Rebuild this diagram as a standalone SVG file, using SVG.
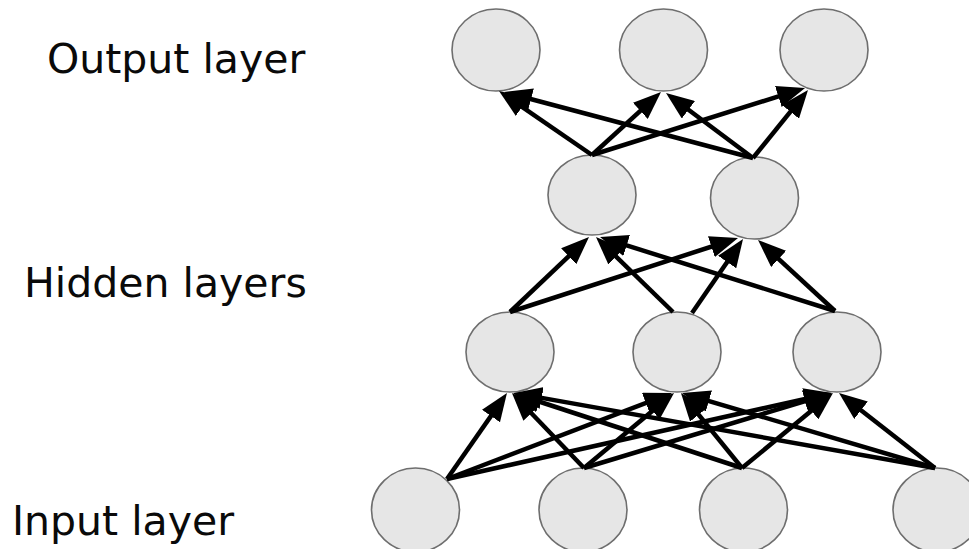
<svg xmlns="http://www.w3.org/2000/svg" width="969" height="549" viewBox="0 0 969 549">
<style>
.lbl{font-family:"DejaVu Sans","Liberation Sans",sans-serif;font-size:41px;fill:#0a0a0a}
.n{fill:#e6e6e6;stroke:#6e6e6e;stroke-width:1.6}
.e{stroke:#000;stroke-width:4.5;fill:none;marker-end:url(#ah)}
</style>
<defs>
<marker id="ah" viewBox="0 0 28 22" refX="20" refY="11" markerWidth="28" markerHeight="22" markerUnits="userSpaceOnUse" orient="auto">
<path d="M0,0 L28,11 L0,22 z" fill="#000"/>
</marker>
</defs>
<rect width="969" height="549" fill="#fff"/>
<text class="lbl" x="47" y="73">Output layer</text>
<text class="lbl" x="24" y="297">Hidden layers</text>
<text class="lbl" x="12" y="535">Input layer</text>

<g id="o1"><ellipse class="n" cx="496" cy="50" rx="44" ry="41"/></g>
<g id="o2"><ellipse class="n" cx="663.5" cy="50" rx="44" ry="41"/></g>
<g id="o3"><ellipse class="n" cx="824" cy="50" rx="44" ry="41"/></g>
<g id="h2a"><ellipse class="n" cx="592" cy="195" rx="44" ry="40"/></g>
<g id="h2b"><ellipse class="n" cx="754.5" cy="198" rx="44" ry="41"/></g>
<g id="h1a"><ellipse class="n" cx="510" cy="352" rx="44" ry="40"/></g>
<g id="h1b"><ellipse class="n" cx="677" cy="352" rx="44" ry="40"/></g>
<g id="h1c"><ellipse class="n" cx="837" cy="352" rx="44" ry="40"/></g>
<g id="i1"><ellipse class="n" cx="415.5" cy="510" rx="44" ry="42"/></g>
<g id="i2"><ellipse class="n" cx="583" cy="510" rx="44" ry="42"/></g>
<g id="i3"><ellipse class="n" cx="743.5" cy="510" rx="44" ry="42"/></g>
<g id="i4"><ellipse class="n" cx="937" cy="510" rx="44" ry="42"/></g>

<g id="connectors">
<line class="e" x1="447" y1="479" x2="502.4" y2="399.6"/>
<line class="e" x1="584" y1="468" x2="517.5" y2="398.8"/>
<line class="e" x1="742" y1="468" x2="520.6" y2="395.5"/>
<line class="e" x1="935" y1="468" x2="521.9" y2="394.4"/>
<line class="e" x1="447" y1="479" x2="664.5" y2="395.9"/>
<line class="e" x1="584" y1="468" x2="667.9" y2="398.1"/>
<line class="e" x1="742" y1="468" x2="686" y2="399.2"/>
<line class="e" x1="935" y1="468" x2="689.7" y2="395.3"/>
<line class="e" x1="447" y1="479" x2="824.2" y2="394.7"/>
<line class="e" x1="584" y1="468" x2="824.3" y2="395.3"/>
<line class="e" x1="742" y1="468" x2="826.8" y2="398.1"/>
<line class="e" x1="935" y1="468" x2="845.3" y2="397.9"/>
<line class="e" x1="510" y1="312" x2="583.2" y2="242.5"/>
<line class="e" x1="673" y1="312" x2="601.7" y2="242.6"/>
<line class="e" x1="835" y1="311" x2="607.6" y2="239.4"/>
<line class="e" x1="510" y1="312" x2="730.4" y2="240.5"/>
<line class="e" x1="692" y1="313" x2="738.5" y2="245.6"/>
<line class="e" x1="835" y1="311" x2="763.9" y2="245.4"/>
<line class="e" x1="592" y1="155" x2="505.6" y2="95.5"/>
<line class="e" x1="753" y1="158" x2="511.7" y2="94"/>
<line class="e" x1="592" y1="155" x2="655.1" y2="97.4"/>
<line class="e" x1="753" y1="158" x2="672.4" y2="97.8"/>
<line class="e" x1="592" y1="155" x2="797.4" y2="90.4"/>
<line class="e" x1="753" y1="158" x2="803" y2="96.2"/>
</g>
</svg>
